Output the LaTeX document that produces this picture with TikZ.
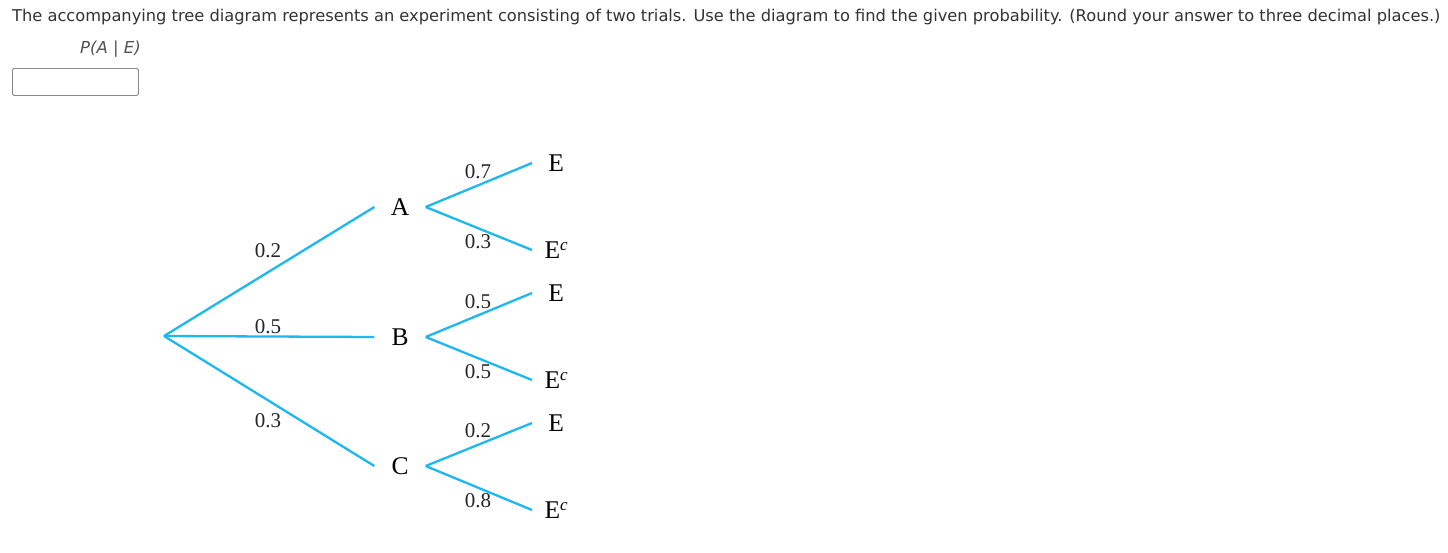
\documentclass[tikz,border=0pt]{standalone}
\usepackage{fontspec}
\setmainfont{Liberation Serif}
\newfontfamily\uifont{DejaVu Sans}
\definecolor{branch}{HTML}{1CB8EE}
\definecolor{uitext}{HTML}{333333}
\definecolor{boxgray}{HTML}{8A8A8A}
\newcommand{\compl}{\raisebox{7.5pt}{\fontsize{17}{17}\selectfont\itshape c}}
\begin{document}
\begin{tikzpicture}[x=1pt,y=-1pt,
  edge/.style={draw=branch,line width=2.3pt},
  letter/.style={font=\fontsize{25.5}{25.5}\selectfont,inner sep=0pt,minimum width=51pt,minimum height=20pt},
  leaf/.style={font=\fontsize{25.5}{25.5}\selectfont,inner sep=0pt,minimum width=48pt,minimum height=20pt,anchor=west},
  prob/.style={font=\fontsize{21}{21}\selectfont,inner sep=0pt,text=black!85}]
\useasboundingbox[fill=white] (0,0) rectangle (1448,552);
% header
\node[anchor=base west,inner sep=0pt,text=uitext] (question) at (12,21)
  {\resizebox{1428pt}{!}{\uifont The accompanying tree diagram represents an experiment consisting of two trials. Use the diagram to find the given probability. (Round your answer to three decimal places.)}};
\node[anchor=base west,inner sep=0pt,text=uitext!85] (prompt) at (80,53)
  {\uifont\fontsize{16.5}{16.5}\selectfont\itshape P(A | E)};
\node[draw=boxgray,line width=0.8pt,rounded corners=1.5pt,minimum width=126pt,minimum height=27pt,inner sep=0pt,anchor=north west] (answer) at (12,68) {};
% probability labels
\node[prob] (pA) at (268,251) {0.2};
\node[prob] (pB) at (268,327) {0.5};
\node[prob] (pC) at (268,421) {0.3};
\node[prob] (pAE) at (478,172) {0.7};
\node[prob] (pAEc) at (478,242) {0.3};
\node[prob] (pBE) at (478,302) {0.5};
\node[prob] (pBEc) at (478,372) {0.5};
\node[prob] (pCE) at (478,431) {0.2};
\node[prob] (pCEc) at (478,501) {0.8};
% tree nodes
\coordinate (root) at (164,336);
\node[letter] (A) at (400,207) {A};
\node[letter] (B) at (400,337) {B};
\node[letter] (C) at (400,466) {C};
\node[leaf] (AE) at (532,163) {E};
\node[leaf] (AEc) at (532,250) {E\compl};
\node[leaf] (BE) at (532,293) {E};
\node[leaf] (BEc) at (532,380) {E\compl};
\node[leaf] (CE) at (532,423) {E};
\node[leaf] (CEc) at (532,510) {E\compl};
% connectors
\draw[edge] (root) -- (A.west);
\draw[edge] (root) -- (B.west);
\draw[edge] (root) -- (C.west);
\draw[edge] (A.east) -- (AE.west);
\draw[edge] (A.east) -- (AEc.west);
\draw[edge] (B.east) -- (BE.west);
\draw[edge] (B.east) -- (BEc.west);
\draw[edge] (C.east) -- (CE.west);
\draw[edge] (C.east) -- (CEc.west);
\end{tikzpicture}
\end{document}
